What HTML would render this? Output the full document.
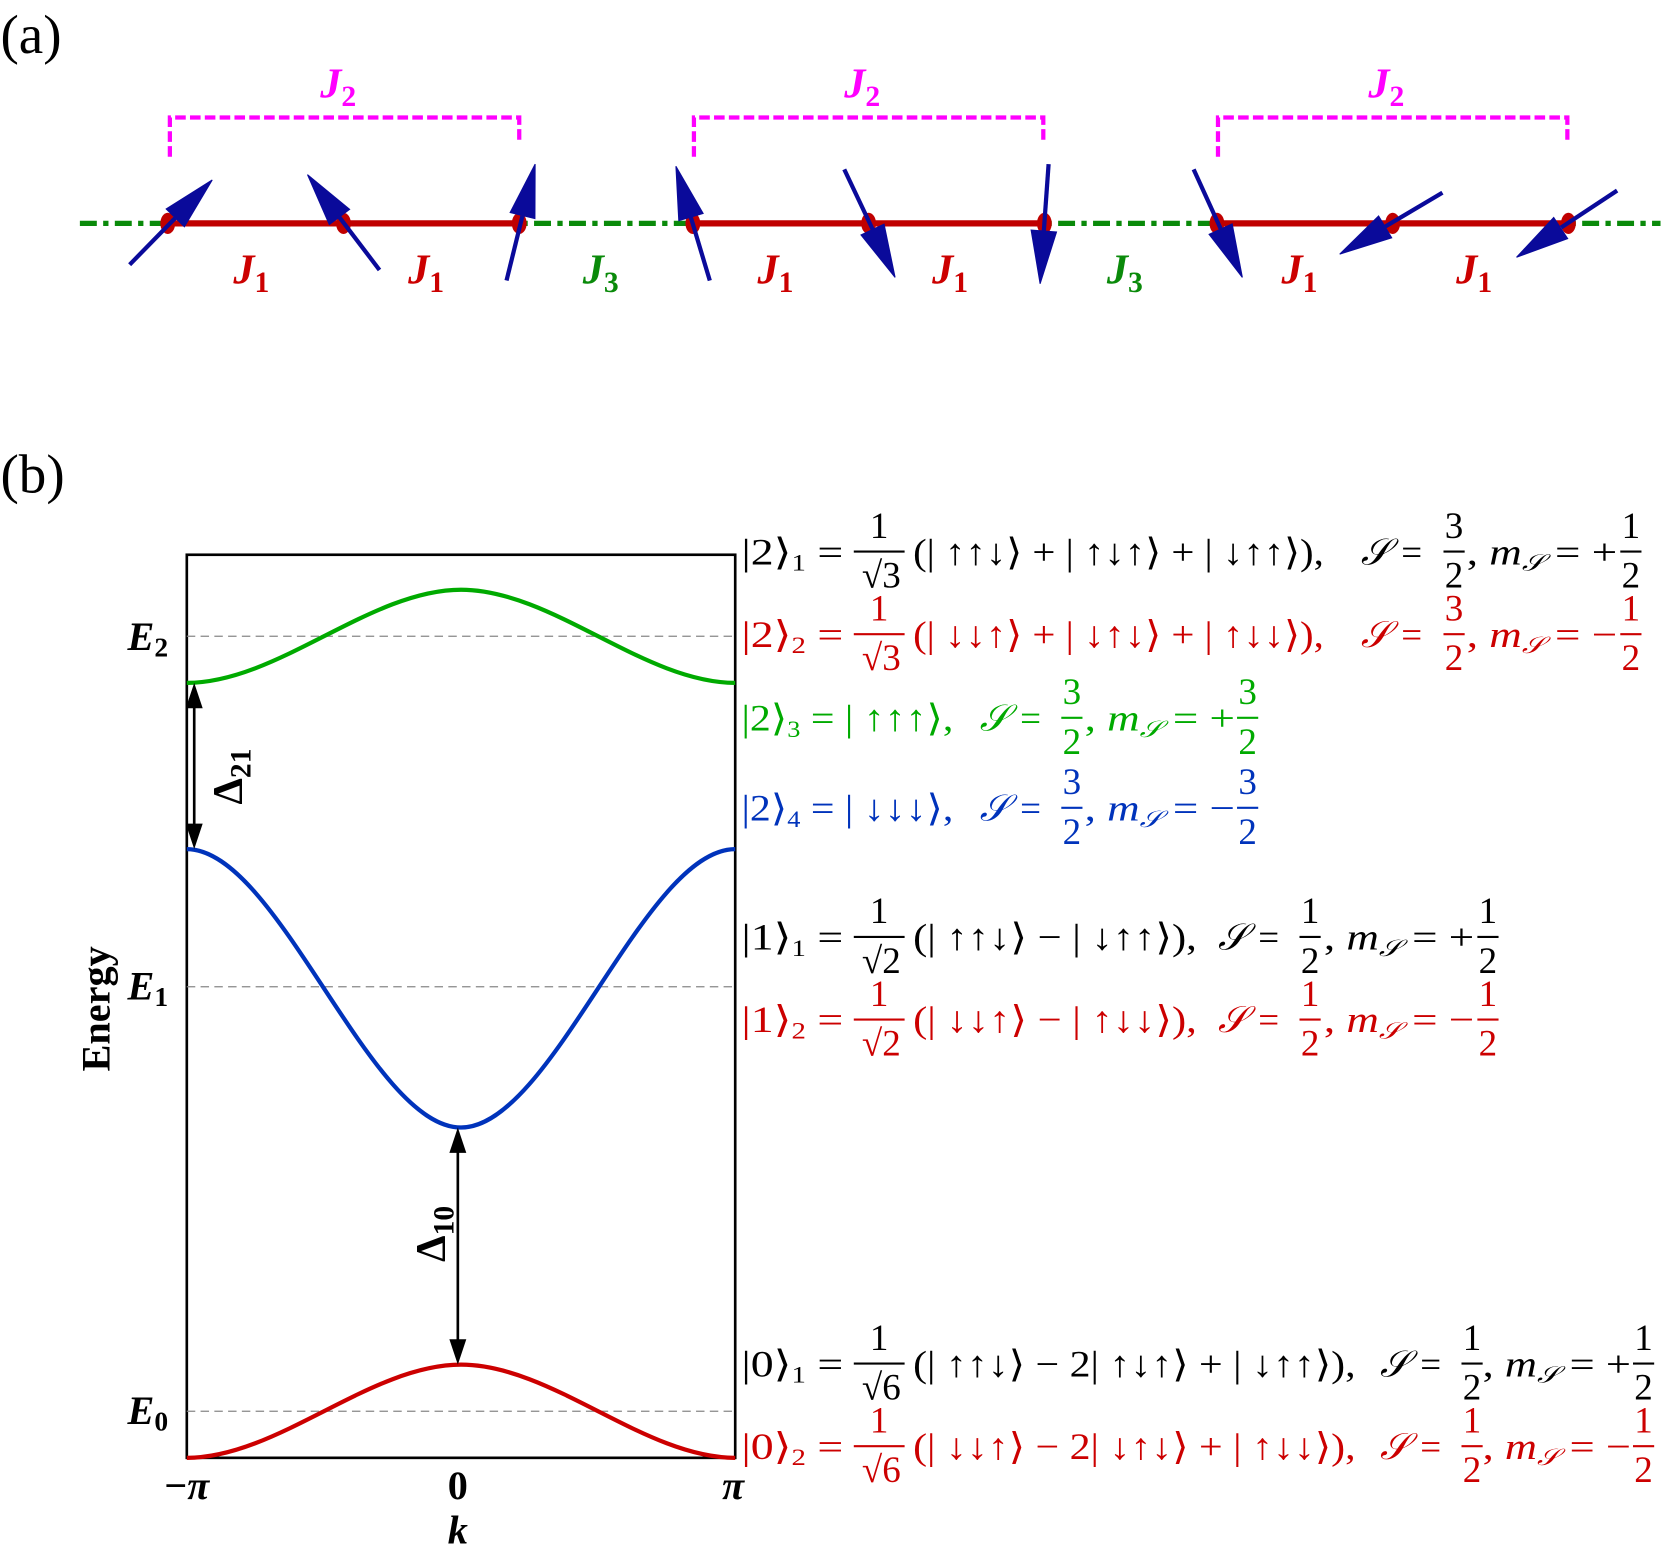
<!DOCTYPE html>
<html><head><meta charset="utf-8"><style>
html,body{margin:0;padding:0;background:#fff;}
svg{display:block}
text{font-family:"Liberation Serif","DejaVu Serif",serif;}
</style></head><body>
<svg width="1661" height="1551" viewBox="0 0 1568 1465" xmlns="http://www.w3.org/2000/svg">
<rect width="1568" height="1465" fill="#fff"/>
<!-- (a) -->
<text x="0" y="50" font-size="52">(a)</text>
<line x1="75" y1="211" x2="1568" y2="211" stroke="#0a8a0a" stroke-width="5" stroke-dasharray="16,6,5,6"/>
<g stroke="#c00000" stroke-width="6">
<line x1="158" y1="211" x2="490" y2="211"/><line x1="654" y1="211" x2="986" y2="211"/><line x1="1149" y1="211" x2="1481" y2="211"/>
</g>
<g fill="#c00000">
<ellipse cx="158" cy="211" rx="7" ry="10"/><ellipse cx="324" cy="211" rx="7" ry="10"/><ellipse cx="490" cy="211" rx="7" ry="10"/>
<ellipse cx="654" cy="211" rx="7" ry="10"/><ellipse cx="820" cy="211" rx="7" ry="10"/><ellipse cx="986" cy="211" rx="7" ry="10"/>
<ellipse cx="1149" cy="211" rx="7" ry="10"/><ellipse cx="1315" cy="211" rx="7" ry="10"/><ellipse cx="1481" cy="211" rx="7" ry="10"/>
</g>
<g stroke="#ff00ff" stroke-width="4" fill="none" stroke-dasharray="10,4">
<path d="M160,148 V111 H490 V135"/><path d="M655,148 V111 H985 V135"/><path d="M1150,148 V111 H1480 V135"/>
</g>
<g font-size="40" font-style="italic" font-weight="bold" fill="#ff00ff">
<text x="302" y="92">J<tspan font-size="28" dy="8" font-style="normal">2</tspan></text>
<text x="797" y="92">J<tspan font-size="28" dy="8" font-style="normal">2</tspan></text>
<text x="1292" y="92">J<tspan font-size="28" dy="8" font-style="normal">2</tspan></text>
</g>
<g font-size="40" font-style="italic" font-weight="bold" fill="#cc0000">
<text x="220" y="268">J<tspan font-size="28" dy="8" font-style="normal">1</tspan></text>
<text x="385" y="268">J<tspan font-size="28" dy="8" font-style="normal">1</tspan></text>
<text x="715" y="268">J<tspan font-size="28" dy="8" font-style="normal">1</tspan></text>
<text x="880" y="268">J<tspan font-size="28" dy="8" font-style="normal">1</tspan></text>
<text x="1210" y="268">J<tspan font-size="28" dy="8" font-style="normal">1</tspan></text>
<text x="1375" y="268">J<tspan font-size="28" dy="8" font-style="normal">1</tspan></text>
</g>
<g font-size="40" font-style="italic" font-weight="bold" fill="#0a8a0a">
<text x="550" y="268">J<tspan font-size="28" dy="8" font-style="normal">3</tspan></text>
<text x="1045" y="268">J<tspan font-size="28" dy="8" font-style="normal">3</tspan></text>
</g>
<g fill="#0a0a9a" stroke="#0a0a9a" stroke-width="4" stroke-linejoin="miter">
<line x1="122" y1="250" x2="165" y2="206"/><polygon stroke-width="1" points="200,170 173.7,214.2 156.5,197.4"/>
<line x1="358" y1="255" x2="320" y2="205"/><polygon stroke-width="1" points="290,165 329.8,197.7 310.6,212.1"/>
<line x1="478" y1="265" x2="493" y2="204"/><polygon stroke-width="1" points="505,155 504.8,206.5 481.4,200.7"/>
<line x1="670" y1="265" x2="652" y2="205"/><polygon stroke-width="1" points="638,157 663.7,201.6 640.7,208.4"/>
<line x1="797" y1="160" x2="824" y2="217"/><polygon stroke-width="1" points="845,262 834.6,211.7 812.8,221.9"/>
<line x1="990" y1="155" x2="985.5" y2="218"/><polygon stroke-width="1" points="982,268 997.5,219.1 973.5,217.3"/>
<line x1="1127" y1="160" x2="1152.5" y2="216"/><polygon stroke-width="1" points="1173,262 1163.4,211.5 1141.6,221.3"/>
<line x1="1362" y1="182" x2="1308" y2="214"/><polygon stroke-width="1" points="1265,240 1314.1,224.6 1301.7,204"/>
<line x1="1527" y1="180" x2="1474" y2="215"/><polygon stroke-width="1" points="1432,243 1480.3,225.4 1467.1,205.4"/>
</g>

<!-- (b) -->
<text x="0" y="465" font-size="52">(b)</text>
<rect x="176" y="524" width="518" height="853" fill="none" stroke="#000" stroke-width="2.5"/>
<g stroke="#888" stroke-width="1.2" stroke-dasharray="8,5">
<line x1="176" y1="601" x2="694" y2="601"/><line x1="176" y1="932" x2="694" y2="932"/><line x1="176" y1="1333" x2="694" y2="1333"/>
</g>
<path fill="none" stroke="#00aa00" stroke-width="4" d="M176,645 C262,645 349,557 435,557 C521,557 608,645 694,645" />
<path fill="none" stroke="#0033bb" stroke-width="4" d="M176,802 C262,802 349,1065 435,1065 C521,1065 608,802 694,802" />
<path fill="none" stroke="#cc0000" stroke-width="4" d="M176,1377 C262,1377 349,1289 435,1289 C521,1289 608,1377 694,1377" />
<line x1="183" y1="660" x2="183" y2="787" stroke="#000" stroke-width="2.5"/>
<path d="M183,645 l-8,24 l16,0 z M183,802 l-8,-24 l16,0 z" fill="#000"/>
<path d="M432,1065 l-8,24 l16,0 z M432,1289 l-8,-24 l16,0 z" fill="#000"/>
<line x1="432" y1="1080" x2="432" y2="1275" stroke="#000" stroke-width="2.5"/>
<text transform="translate(228,760) rotate(-90)" font-size="40" font-weight="bold">Δ<tspan font-size="28" dy="8">21</tspan></text>
<text transform="translate(420,1192) rotate(-90)" font-size="40" font-weight="bold">Δ<tspan font-size="28" dy="8">10</tspan></text>
<text transform="translate(103,1012) rotate(-90)" font-size="38" font-weight="bold">Energy</text>
<g font-size="38" font-weight="bold" font-style="italic">
<text x="120" y="614">E<tspan font-size="26" dy="6" font-style="normal">2</tspan></text>
<text x="120" y="944">E<tspan font-size="26" dy="6" font-style="normal">1</tspan></text>
<text x="120" y="1345">E<tspan font-size="26" dy="6" font-style="normal">0</tspan></text>
</g>
<g font-size="38" font-weight="bold" text-anchor="middle">
<text x="176" y="1416">−<tspan font-style="italic">π</tspan></text>
<text x="432" y="1416">0</text>
<text x="692" y="1416" font-style="italic">π</text>
<text x="432" y="1458" font-style="italic">k</text>
</g>

<!-- equations -->
<g font-size="35">
<g fill="#000">
<text x="700" y="533" textLength="96" lengthAdjust="spacingAndGlyphs">|2⟩<tspan font-size="22" dy="6">1</tspan><tspan dy="-6"> =</tspan></text>
<text x="830" y="508" text-anchor="middle">1</text><line x1="806" y1="521" x2="854" y2="521" stroke="#000" stroke-width="2"/><text x="832" y="555" text-anchor="middle">√3</text>
<text x="862" y="533" textLength="388" lengthAdjust="spacingAndGlyphs">(| ↑↑↓⟩ + | ↑↓↑⟩ + | ↓↑↑⟩),</text>
<text x="1285" y="533" font-style="italic">𝒮 =</text>
<text x="1373" y="508" text-anchor="middle">3</text><line x1="1363" y1="521" x2="1383" y2="521" stroke="#000" stroke-width="2"/><text x="1373" y="555" text-anchor="middle">2</text>
<text x="1385" y="533" textLength="142" lengthAdjust="spacingAndGlyphs">, <tspan font-style="italic">m<tspan font-size="22" dy="6">𝒮</tspan></tspan><tspan dy="-6"> = +</tspan></text>
<text x="1540" y="508" text-anchor="middle">1</text><line x1="1530" y1="521" x2="1550" y2="521" stroke="#000" stroke-width="2"/><text x="1540" y="555" text-anchor="middle">2</text>
</g>
<g fill="#cc0000">
<text x="700" y="611" textLength="96" lengthAdjust="spacingAndGlyphs">|2⟩<tspan font-size="22" dy="6">2</tspan><tspan dy="-6"> =</tspan></text>
<text x="830" y="586" text-anchor="middle">1</text><line x1="806" y1="599" x2="854" y2="599" stroke="#cc0000" stroke-width="2"/><text x="832" y="633" text-anchor="middle">√3</text>
<text x="862" y="611" textLength="388" lengthAdjust="spacingAndGlyphs">(| ↓↓↑⟩ + | ↓↑↓⟩ + | ↑↓↓⟩),</text>
<text x="1285" y="611" font-style="italic">𝒮 =</text>
<text x="1373" y="586" text-anchor="middle">3</text><line x1="1363" y1="599" x2="1383" y2="599" stroke="#cc0000" stroke-width="2"/><text x="1373" y="633" text-anchor="middle">2</text>
<text x="1385" y="611" textLength="142" lengthAdjust="spacingAndGlyphs">, <tspan font-style="italic">m<tspan font-size="22" dy="6">𝒮</tspan></tspan><tspan dy="-6"> = −</tspan></text>
<text x="1540" y="586" text-anchor="middle">1</text><line x1="1530" y1="599" x2="1550" y2="599" stroke="#cc0000" stroke-width="2"/><text x="1540" y="633" text-anchor="middle">2</text>
</g>
<g fill="#00aa00">
<text x="700" y="690" textLength="200" lengthAdjust="spacingAndGlyphs">|2⟩<tspan font-size="22" dy="6">3</tspan><tspan dy="-6"> = | ↑↑↑⟩,</tspan></text>
<text x="925" y="690" font-style="italic">𝒮 =</text>
<text x="1012" y="665" text-anchor="middle">3</text><line x1="1002" y1="678" x2="1022" y2="678" stroke="#00aa00" stroke-width="2"/><text x="1012" y="712" text-anchor="middle">2</text>
<text x="1024" y="690" textLength="142" lengthAdjust="spacingAndGlyphs">, <tspan font-style="italic">m<tspan font-size="22" dy="6">𝒮</tspan></tspan><tspan dy="-6"> = +</tspan></text>
<text x="1178" y="665" text-anchor="middle">3</text><line x1="1168" y1="678" x2="1188" y2="678" stroke="#00aa00" stroke-width="2"/><text x="1178" y="712" text-anchor="middle">2</text>
</g>
<g fill="#0033bb">
<text x="700" y="775" textLength="200" lengthAdjust="spacingAndGlyphs">|2⟩<tspan font-size="22" dy="6">4</tspan><tspan dy="-6"> = | ↓↓↓⟩,</tspan></text>
<text x="925" y="775" font-style="italic">𝒮 =</text>
<text x="1012" y="750" text-anchor="middle">3</text><line x1="1002" y1="763" x2="1022" y2="763" stroke="#0033bb" stroke-width="2"/><text x="1012" y="797" text-anchor="middle">2</text>
<text x="1024" y="775" textLength="142" lengthAdjust="spacingAndGlyphs">, <tspan font-style="italic">m<tspan font-size="22" dy="6">𝒮</tspan></tspan><tspan dy="-6"> = −</tspan></text>
<text x="1178" y="750" text-anchor="middle">3</text><line x1="1168" y1="763" x2="1188" y2="763" stroke="#0033bb" stroke-width="2"/><text x="1178" y="797" text-anchor="middle">2</text>
</g>
<g fill="#000">
<text x="700" y="897" textLength="96" lengthAdjust="spacingAndGlyphs">|1⟩<tspan font-size="22" dy="6">1</tspan><tspan dy="-6"> =</tspan></text>
<text x="830" y="872" text-anchor="middle">1</text><line x1="806" y1="885" x2="854" y2="885" stroke="#000" stroke-width="2"/><text x="832" y="919" text-anchor="middle">√2</text>
<text x="862" y="897" textLength="268" lengthAdjust="spacingAndGlyphs">(| ↑↑↓⟩ − | ↓↑↑⟩),</text>
<text x="1150" y="897" font-style="italic">𝒮 =</text>
<text x="1237" y="872" text-anchor="middle">1</text><line x1="1227" y1="885" x2="1247" y2="885" stroke="#000" stroke-width="2"/><text x="1237" y="919" text-anchor="middle">2</text>
<text x="1250" y="897" textLength="142" lengthAdjust="spacingAndGlyphs">, <tspan font-style="italic">m<tspan font-size="22" dy="6">𝒮</tspan></tspan><tspan dy="-6"> = +</tspan></text>
<text x="1405" y="872" text-anchor="middle">1</text><line x1="1395" y1="885" x2="1415" y2="885" stroke="#000" stroke-width="2"/><text x="1405" y="919" text-anchor="middle">2</text>
</g>
<g fill="#cc0000">
<text x="700" y="975" textLength="96" lengthAdjust="spacingAndGlyphs">|1⟩<tspan font-size="22" dy="6">2</tspan><tspan dy="-6"> =</tspan></text>
<text x="830" y="950" text-anchor="middle">1</text><line x1="806" y1="963" x2="854" y2="963" stroke="#cc0000" stroke-width="2"/><text x="832" y="997" text-anchor="middle">√2</text>
<text x="862" y="975" textLength="268" lengthAdjust="spacingAndGlyphs">(| ↓↓↑⟩ − | ↑↓↓⟩),</text>
<text x="1150" y="975" font-style="italic">𝒮 =</text>
<text x="1237" y="950" text-anchor="middle">1</text><line x1="1227" y1="963" x2="1247" y2="963" stroke="#cc0000" stroke-width="2"/><text x="1237" y="997" text-anchor="middle">2</text>
<text x="1250" y="975" textLength="142" lengthAdjust="spacingAndGlyphs">, <tspan font-style="italic">m<tspan font-size="22" dy="6">𝒮</tspan></tspan><tspan dy="-6"> = −</tspan></text>
<text x="1405" y="950" text-anchor="middle">1</text><line x1="1395" y1="963" x2="1415" y2="963" stroke="#cc0000" stroke-width="2"/><text x="1405" y="997" text-anchor="middle">2</text>
</g>
<g fill="#000">
<text x="700" y="1300" textLength="96" lengthAdjust="spacingAndGlyphs">|0⟩<tspan font-size="22" dy="6">1</tspan><tspan dy="-6"> =</tspan></text>
<text x="830" y="1275" text-anchor="middle">1</text><line x1="806" y1="1288" x2="854" y2="1288" stroke="#000" stroke-width="2"/><text x="832" y="1322" text-anchor="middle">√6</text>
<text x="862" y="1300" textLength="418" lengthAdjust="spacingAndGlyphs">(| ↑↑↓⟩ − 2| ↑↓↑⟩ + | ↓↑↑⟩),</text>
<text x="1303" y="1300" font-style="italic">𝒮 =</text>
<text x="1390" y="1275" text-anchor="middle">1</text><line x1="1380" y1="1288" x2="1400" y2="1288" stroke="#000" stroke-width="2"/><text x="1390" y="1322" text-anchor="middle">2</text>
<text x="1400" y="1300" textLength="140" lengthAdjust="spacingAndGlyphs">, <tspan font-style="italic">m<tspan font-size="22" dy="6">𝒮</tspan></tspan><tspan dy="-6"> = +</tspan></text>
<text x="1552" y="1275" text-anchor="middle">1</text><line x1="1542" y1="1288" x2="1562" y2="1288" stroke="#000" stroke-width="2"/><text x="1552" y="1322" text-anchor="middle">2</text>
</g>
<g fill="#cc0000">
<text x="700" y="1378" textLength="96" lengthAdjust="spacingAndGlyphs">|0⟩<tspan font-size="22" dy="6">2</tspan><tspan dy="-6"> =</tspan></text>
<text x="830" y="1353" text-anchor="middle">1</text><line x1="806" y1="1366" x2="854" y2="1366" stroke="#cc0000" stroke-width="2"/><text x="832" y="1400" text-anchor="middle">√6</text>
<text x="862" y="1378" textLength="418" lengthAdjust="spacingAndGlyphs">(| ↓↓↑⟩ − 2| ↓↑↓⟩ + | ↑↓↓⟩),</text>
<text x="1303" y="1378" font-style="italic">𝒮 =</text>
<text x="1390" y="1353" text-anchor="middle">1</text><line x1="1380" y1="1366" x2="1400" y2="1366" stroke="#cc0000" stroke-width="2"/><text x="1390" y="1400" text-anchor="middle">2</text>
<text x="1400" y="1378" textLength="140" lengthAdjust="spacingAndGlyphs">, <tspan font-style="italic">m<tspan font-size="22" dy="6">𝒮</tspan></tspan><tspan dy="-6"> = −</tspan></text>
<text x="1552" y="1353" text-anchor="middle">1</text><line x1="1542" y1="1366" x2="1562" y2="1366" stroke="#cc0000" stroke-width="2"/><text x="1552" y="1400" text-anchor="middle">2</text>
</g>
</g>
</svg>
</body></html>
